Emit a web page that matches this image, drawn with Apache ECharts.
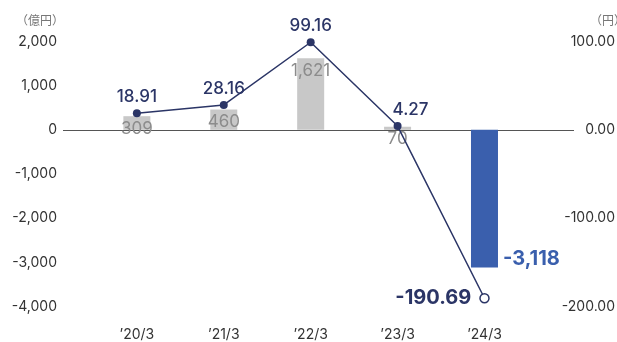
<!DOCTYPE html>
<html><head><meta charset="utf-8">
<script src="https://cdn.jsdelivr.net/npm/echarts@6/dist/echarts.min.js"></script>
<style>html,body{margin:0;padding:0;background:#fff}#c{width:617px;height:342px}</style>
</head><body><div id="c"></div>
<script>
const categories = ['’20/3', '’21/3', '’22/3', '’23/3', '’24/3'];
const netIncome = [309, 460, 1621, 70, -3118];      // 億円 (bars)
const eps = [18.91, 28.16, 99.16, 4.27, -190.69];   // 円 (line)
const leftTicks = [-4000, 2000, 1000];
const rightTicks = [-200, 100, 100];
const leftUnit = '（億円）';
const rightUnit = '（円）';

const FONT = 'Inter, "Noto Sans CJK JP", sans-serif';
const NAVY = '#2b3566';
const GREY_BAR = '#c8c8c8';
const BLUE = '#3a5fad';

const barData = netIncome.map((v, i) => ({
  value: [i, v],
  itemStyle: { color: v < 0 ? BLUE : GREY_BAR },
  label: v < 0 ? {
    show: true, position: 'right', distance: 5, offset: [0, 60],
    color: BLUE, fontSize: 20, fontWeight: 'bold', fontFamily: FONT,
    formatter: () => v.toLocaleString('en-US')
  } : undefined
}));
const lineData = eps.map((v, i) => {
  const d = { value: [i, v] };
  if (v < 0) {
    d.symbol = 'circle'; d.symbolSize = 9;
    d.itemStyle = { color: '#fff', borderColor: NAVY, borderWidth: 1.5 };
    d.label = { position: 'left', distance: 8, fontSize: 20, fontWeight: 'bold' };
  } else if (i === 3) {
    d.label = { offset: [13, 0] };
  }
  return d;
});

const unitStyle = { color: '#777', fontSize: 12, fontWeight: 'normal', fontFamily: FONT };
const chart = echarts.init(document.getElementById('c'), null, { renderer: 'canvas' });
chart.setOption({
  animation: false,
  title: [
    { text: leftUnit, left: 16, top: 15, padding: 0, textStyle: unitStyle },
    { text: rightUnit, left: 590, top: 15, padding: 0, textStyle: unitStyle }
  ],
  grid: { left: 63, right: 43, top: 41.5, bottom: 35.5, containLabel: false, outerBoundsMode: 'none' },
  xAxis: {
    type: 'value', min: -0.85, max: 5.03,
    axisLine: { show: false }, axisTick: { show: false }, splitLine: { show: false },
    axisLabel: {
      customValues: [0, 1, 2, 3, 4],
      formatter: v => categories[Math.round(v)] || '',
      color: '#333', fontSize: 14, fontFamily: FONT, margin: 21
    }
  },
  yAxis: [{
    type: 'value', min: leftTicks[0], max: leftTicks[1], interval: leftTicks[2],
    axisLine: { show: false }, axisTick: { show: false }, splitLine: { show: false },
    axisLabel: { color: '#333', fontSize: 14, fontFamily: FONT, margin: 6,
      formatter: v => v.toLocaleString('en-US') }
  }, {
    type: 'value', min: rightTicks[0], max: rightTicks[1], interval: rightTicks[2],
    axisLine: { show: false }, axisTick: { show: false }, splitLine: { show: false },
    axisLabel: { color: '#333', fontSize: 14, fontFamily: FONT, margin: 41, align: 'right',
      formatter: v => v.toFixed(2) }
  }],
  series: [{
    type: 'bar', yAxisIndex: 0, barWidth: 27, data: barData, z: 2,
    label: { show: true, position: 'insideTop', distance: 4, color: '#8c8c8c', fontSize: 17,
      fontFamily: FONT, formatter: p => p.value[1].toLocaleString('en-US') },
    markLine: { silent: true, symbol: 'none', label: { show: false }, z: 1,
      lineStyle: { color: '#555', width: 1, type: 'solid' }, data: [{ yAxis: 0 }] }
  }, {
    type: 'line', yAxisIndex: 1, data: lineData, z: 3,
    symbol: 'circle', symbolSize: 8,
    lineStyle: { color: NAVY, width: 1.5 }, itemStyle: { color: NAVY },
    label: { show: true, position: 'top', distance: 4, color: NAVY, fontSize: 17, fontWeight: 500,
      fontFamily: FONT, formatter: p => p.value[1].toFixed(2) }
  }]
});
</script></body></html>
